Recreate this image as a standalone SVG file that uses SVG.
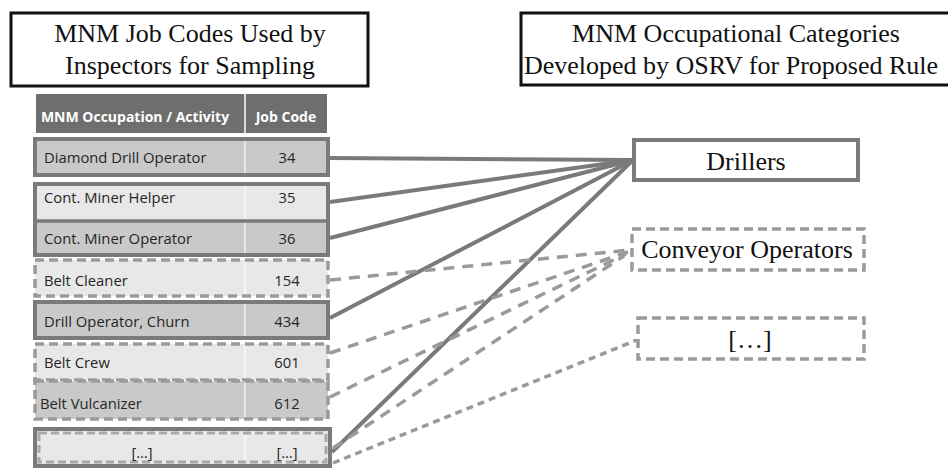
<svg xmlns="http://www.w3.org/2000/svg" width="948" height="474" viewBox="0 0 948 474">
<style>
.title{font-family:"Liberation Serif","Times New Roman",serif;font-size:26px;fill:#111;text-anchor:middle}
.cat{font-family:"Liberation Serif","Times New Roman",serif;font-size:26px;fill:#111;text-anchor:middle}
.hd{font-family:"Open Sans","Noto Sans",sans-serif;font-size:14px;font-weight:bold;fill:#fff;text-anchor:middle}
.cell{font-family:"Open Sans","Noto Sans",sans-serif;font-size:14.8px;fill:#262626}
.code{font-family:"Open Sans","Noto Sans",sans-serif;font-size:14.8px;fill:#262626;text-anchor:middle}
.dark{fill:#c9c9c9}
.light{fill:#e8e8e8}
.solidb{fill:none;stroke:#7a7a7a;stroke-width:4}
.dashb{fill:none;stroke:#9a9a9a;stroke-width:3.5;stroke-dasharray:9 5}
.solid{stroke:#7a7a7a;stroke-width:4;fill:none}
.dash{stroke:#9a9a9a;stroke-width:3.5;fill:none;stroke-dasharray:11 8}
.dot{stroke:#9a9a9a;stroke-width:3.5;fill:none;stroke-dasharray:7 5}
.div{stroke:#fff;stroke-width:1.5;opacity:0.8}
</style>
<rect width="948" height="474" fill="#fff"/>

<g id="title-left">
<rect x="11" y="13" width="357" height="73" fill="#fff" stroke="#111" stroke-width="3"/>
<text class="title" x="190" y="42">MNM Job Codes Used by</text>
<text class="title" x="190" y="74">Inspectors for Sampling</text>
</g>
<g id="title-right">
<rect x="521" y="13" width="440" height="72" fill="#fff" stroke="#111" stroke-width="3"/>
<text class="title" x="736" y="42">MNM Occupational Categories</text>
<text class="title" x="731" y="74">Developed by OSRV for Proposed Rule</text>
</g>

<g id="table-header">
<rect x="36" y="94" width="291" height="39" fill="#6e6e6e"/>
<line x1="245" y1="94" x2="245" y2="133" stroke="#fff" stroke-width="1.5"/>
<text class="hd" x="135" y="122">MNM Occupation / Activity</text>
<text class="hd" x="286" y="122">Job Code</text>
</g>

<g id="row-34">
<rect x="35" y="139" width="293" height="36" class="dark"/>
<line class="div" x1="245" y1="141" x2="245" y2="173"/>
<rect x="35" y="139" width="293" height="36" class="solidb"/>
<text class="cell" x="44" y="163">Diamond Drill Operator</text>
<text class="code" x="287" y="163">34</text>
</g>
<g id="row-35-36">
<rect x="35" y="184" width="293" height="37" class="light"/>
<rect x="35" y="221" width="293" height="34" class="dark"/>
<line class="div" x1="245" y1="186" x2="245" y2="253"/>
<line x1="35" y1="221" x2="328" y2="221" stroke="#7a7a7a" stroke-width="3.5"/>
<rect x="35" y="184" width="293" height="71" class="solidb"/>
<text class="cell" x="44" y="203">Cont. Miner Helper</text>
<text class="code" x="287" y="203">35</text>
<text class="cell" x="44" y="244">Cont. Miner Operator</text>
<text class="code" x="287" y="244">36</text>
</g>
<g id="row-154">
<rect x="35" y="260" width="293" height="36" class="light"/>
<line class="div" x1="245" y1="262" x2="245" y2="294"/>
<rect x="35" y="260" width="293" height="36" class="dashb"/>
<text class="cell" x="44" y="286">Belt Cleaner</text>
<text class="code" x="287" y="286">154</text>
</g>
<g id="row-434">
<rect x="35" y="302" width="293" height="36" class="dark"/>
<line class="div" x1="245" y1="304" x2="245" y2="336"/>
<rect x="35" y="302" width="293" height="36" class="solidb"/>
<text class="cell" x="44" y="327">Drill Operator, Churn</text>
<text class="code" x="287" y="327">434</text>
</g>
<g id="row-601">
<rect x="35" y="344" width="293" height="36" class="light"/>
<line class="div" x1="245" y1="346" x2="245" y2="378"/>
<rect x="35" y="344" width="293" height="36" class="dashb"/>
<text class="cell" x="44" y="368">Belt Crew</text>
<text class="code" x="287" y="368">601</text>
</g>
<g id="row-612">
<rect x="35" y="381" width="293" height="38" class="dark"/>
<line class="div" x1="245" y1="383" x2="245" y2="417"/>
<rect x="35" y="381" width="293" height="38" class="dashb"/>
<text class="cell" x="40" y="409">Belt Vulcanizer</text>
<text class="code" x="287" y="409">612</text>
</g>
<g id="row-more">
<rect x="35" y="429" width="295" height="37" class="light"/>
<line class="div" x1="245" y1="433" x2="245" y2="462"/>
<rect x="35" y="429" width="295" height="37" fill="none" stroke="#7a7a7a" stroke-width="4"/>
<rect x="39" y="433" width="287" height="29" fill="none" stroke="#a8a8a8" stroke-width="3" stroke-dasharray="8 4"/>
<text class="code" x="142" y="458">[…]</text>
<text class="code" x="287" y="458">[…]</text>
</g>

<g id="connectors">
<line class="solid" x1="330" y1="158" x2="633" y2="160"/>
<line class="solid" x1="330" y1="202" x2="633" y2="160"/>
<line class="solid" x1="330" y1="238" x2="633" y2="160"/>
<line class="solid" x1="330" y1="318" x2="633" y2="160"/>
<line class="solid" x1="332" y1="452" x2="633" y2="160"/>
<line class="dash" x1="330" y1="280" x2="630" y2="250"/>
<line class="dash" x1="330" y1="353" x2="628" y2="252"/>
<line class="dash" x1="330" y1="397" x2="626" y2="254"/>
<line class="dash" x1="333" y1="448" x2="624" y2="256"/>
<line class="dot" x1="333" y1="463" x2="637" y2="340"/>
</g>

<g id="cat-drillers">
<rect x="634" y="140" width="224" height="40" fill="#fff" stroke="#7a7a7a" stroke-width="4"/>
<text class="cat" x="746" y="170">Drillers</text>
</g>
<g id="cat-conveyor">
<rect x="632" y="229" width="232" height="41" class="dashb" style="fill:#fff"/>
<text class="cat" x="747" y="258">Conveyor Operators</text>
</g>
<g id="cat-more">
<rect x="638" y="318" width="226" height="41" class="dashb" style="fill:#fff"/>
<text class="cat" x="750" y="348">[…]</text>
</g>
</svg>
